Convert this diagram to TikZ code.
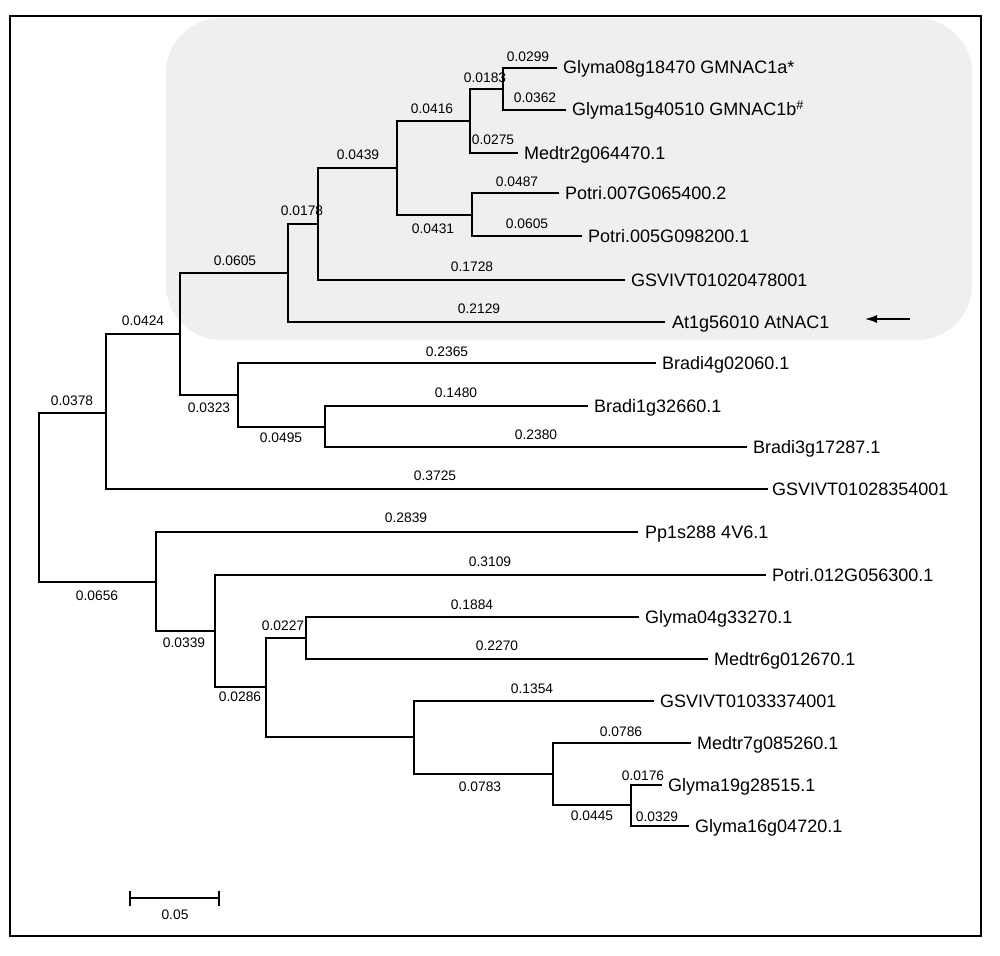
\documentclass[tikz,border=0pt]{standalone}
\usepackage{fontspec}
\setmainfont{Liberation Sans}
\usetikzlibrary{arrows.meta}
\definecolor{cladebg}{HTML}{EFEFF2}
\tikzset{
  br/.style={line width=1.9pt, line join=miter},
  leaf/.style={anchor=base west, inner sep=0pt, font=\fontsize{18}{20}\selectfont},
  blen/.style={anchor=center, inner sep=0pt, font=\fontsize{13.8}{15}\selectfont},
}
\begin{document}
\begin{tikzpicture}[x=1pt,y=-1pt]
\useasboundingbox (0,0) rectangle (1000,955);
% highlighted clade background
\fill[fill=cladebg, rounded corners=55pt] (166,18) rectangle (972,340);
% frame
\draw[line width=1.8pt] (10,16) rectangle (981,936);

% internal nodes
\coordinate (A) at (503,89);
\coordinate (B) at (470,121);
\coordinate (C) at (472,215);
\coordinate (D) at (397,168);
\coordinate (E) at (318,224);
\coordinate (F) at (288,273);
\coordinate (G) at (325,427);
\coordinate (H) at (238,395);
\coordinate (I) at (180,334);
\coordinate (J) at (106,413);
\coordinate (R) at (39,497.5);
\coordinate (K) at (156,582);
\coordinate (M) at (215,631);
\coordinate (N) at (266,687);
\coordinate (P) at (306,638);
\coordinate (Q) at (414,737);
\coordinate (S) at (553,774);
\coordinate (T) at (631,805);

% leaf ends
\coordinate (l1) at (557,68);
\coordinate (l2) at (566,110);
\coordinate (l3) at (518,153);
\coordinate (l4) at (559,193);
\coordinate (l5) at (582,236);
\coordinate (l6) at (625,280);
\coordinate (l7) at (665,322);
\coordinate (l8) at (656,363);
\coordinate (l9) at (588,406);
\coordinate (l10) at (747,447);
\coordinate (l11) at (768,489);
\coordinate (l12) at (638,532);
\coordinate (l13) at (766,575);
\coordinate (l14) at (639,617);
\coordinate (l15) at (708,659);
\coordinate (l16) at (654,701);
\coordinate (l17) at (691,743);
\coordinate (l18) at (662,785);
\coordinate (l19) at (689,826);

% leaf labels
\node[leaf] (t1) at ([xshift=6pt,yshift=-6pt]l1) {Glyma08g18470 GMNAC1a*};
\node[leaf] (t2) at ([xshift=6pt,yshift=-6pt]l2) {Glyma15g40510 GMNAC1b\textsuperscript{\#}};
\node[leaf] (t3) at ([xshift=6pt,yshift=-6pt]l3) {Medtr2g064470.1};
\node[leaf] (t4) at ([xshift=6pt,yshift=-6pt]l4) {Potri.007G065400.2};
\node[leaf] (t5) at ([xshift=6pt,yshift=-6pt]l5) {Potri.005G098200.1};
\node[leaf] (t6) at ([xshift=6pt,yshift=-6pt]l6) {GSVIVT01020478001};
\node[leaf] (t7) at ([xshift=7pt,yshift=-6pt]l7) {At1g56010 AtNAC1};
\node[leaf] (t8) at ([xshift=6pt,yshift=-6pt]l8) {Bradi4g02060.1};
\node[leaf] (t9) at ([xshift=6pt,yshift=-6pt]l9) {Bradi1g32660.1};
\node[leaf] (t10) at ([xshift=6pt,yshift=-6pt]l10) {Bradi3g17287.1};
\node[leaf] (t11) at ([xshift=4pt,yshift=-6pt]l11) {GSVIVT01028354001};
\node[leaf] (t12) at ([xshift=7pt,yshift=-6pt]l12) {Pp1s288 4V6.1};
\node[leaf] (t13) at ([xshift=6pt,yshift=-6pt]l13) {Potri.012G056300.1};
\node[leaf] (t14) at ([xshift=6pt,yshift=-6pt]l14) {Glyma04g33270.1};
\node[leaf] (t15) at ([xshift=6pt,yshift=-6pt]l15) {Medtr6g012670.1};
\node[leaf] (t16) at ([xshift=6pt,yshift=-6pt]l16) {GSVIVT01033374001};
\node[leaf] (t17) at ([xshift=6pt,yshift=-6pt]l17) {Medtr7g085260.1};
\node[leaf] (t18) at ([xshift=6pt,yshift=-6pt]l18) {Glyma19g28515.1};
\node[leaf] (t19) at ([xshift=6pt,yshift=-6pt]l19) {Glyma16g04720.1};

% branches
\draw[br] (A) |- (l1);
\draw[br] (A) |- (l2);
\draw[br] (B) |- (A);
\draw[br] (B) |- (l3);
\draw[br] (C) |- (l4);
\draw[br] (C) |- (l5);
\draw[br] (D) |- (B);
\draw[br] (D) |- (C);
\draw[br] (E) |- (D);
\draw[br] (E) |- (l6);
\draw[br] (F) |- (E);
\draw[br] (F) |- (l7);
\draw[br] (G) |- (l9);
\draw[br] (G) |- (l10);
\draw[br] (H) |- (l8);
\draw[br] (H) |- (G);
\draw[br] (I) |- (F);
\draw[br] (I) |- (H);
\draw[br] (J) |- (I);
\draw[br] (J) |- (l11);
\draw[br] (R) |- (J);
\draw[br] (R) |- (K);
\draw[br] (K) |- (l12);
\draw[br] (K) |- (M);
\draw[br] (M) |- (l13);
\draw[br] (M) |- (N);
\draw[br] (N) |- (P);
\draw[br] (N) |- (Q);
\draw[br] (P) |- (l14);
\draw[br] (P) |- (l15);
\draw[br] (Q) |- (l16);
\draw[br] (Q) |- (S);
\draw[br] (S) |- (l17);
\draw[br] (S) |- (T);
\draw[br] (T) |- (l18);
\draw[br] (T) |- (l19);

% branch length labels
\node[blen] (b1) at (528,57) {0.0299};
\node[blen] (b2) at (485,78) {0.0183};
\node[blen] (b3) at (535,98) {0.0362};
\node[blen] (b4) at (432,109) {0.0416};
\node[blen] (b5) at (493,140) {0.0275};
\node[blen] (b6) at (358,155) {0.0439};
\node[blen] (b7) at (517,182) {0.0487};
\node[blen] (b8) at (302,211) {0.0178};
\node[blen] (b9) at (433,229) {0.0431};
\node[blen] (b10) at (527,224) {0.0605};
\node[blen] (b11) at (235,261) {0.0605};
\node[blen] (b12) at (472,267) {0.1728};
\node[blen] (b13) at (479,309) {0.2129};
\node[blen] (b14) at (143,321) {0.0424};
\node[blen] (b15) at (447,352) {0.2365};
\node[blen] (b16) at (72,401) {0.0378};
\node[blen] (b17) at (456,393) {0.1480};
\node[blen] (b18) at (209,408) {0.0323};
\node[blen] (b19) at (281,438) {0.0495};
\node[blen] (b20) at (536,435) {0.2380};
\node[blen] (b21) at (435,476) {0.3725};
\node[blen] (b22) at (406,518) {0.2839};
\node[blen] (b23) at (490,562) {0.3109};
\node[blen] (b24) at (97,596) {0.0656};
\node[blen] (b25) at (472,605) {0.1884};
\node[blen] (b26) at (283,626) {0.0227};
\node[blen] (b27) at (184,643) {0.0339};
\node[blen] (b28) at (497,646) {0.2270};
\node[blen] (b29) at (240,697) {0.0286};
\node[blen] (b30) at (532,689) {0.1354};
\node[blen] (b31) at (621,732) {0.0786};
\node[blen] (b32) at (480,787) {0.0783};
\node[blen] (b33) at (643,776) {0.0176};
\node[blen] (b34) at (592,816) {0.0445};
\node[blen] (b35) at (657,817) {0.0329};

% arrow pointing at AtNAC1
\coordinate (ar1) at (910,319);
\coordinate (ar2) at (865,319);
\draw[line width=1.4pt, -{Latex[length=12pt,width=8pt]}] (ar1) -- (ar2);

% scale bar
\coordinate (sb1) at (130,898);
\coordinate (sb2) at (219,898);
\draw[line width=1.8pt] (sb1) -- (sb2);
\draw[line width=1.8pt] ([yshift=-7.5pt]sb1) -- ([yshift=7.5pt]sb1);
\draw[line width=1.8pt] ([yshift=-7.5pt]sb2) -- ([yshift=7.5pt]sb2);
\node[blen] (sbl) at (175,915) {0.05};
\end{tikzpicture}
\end{document}
